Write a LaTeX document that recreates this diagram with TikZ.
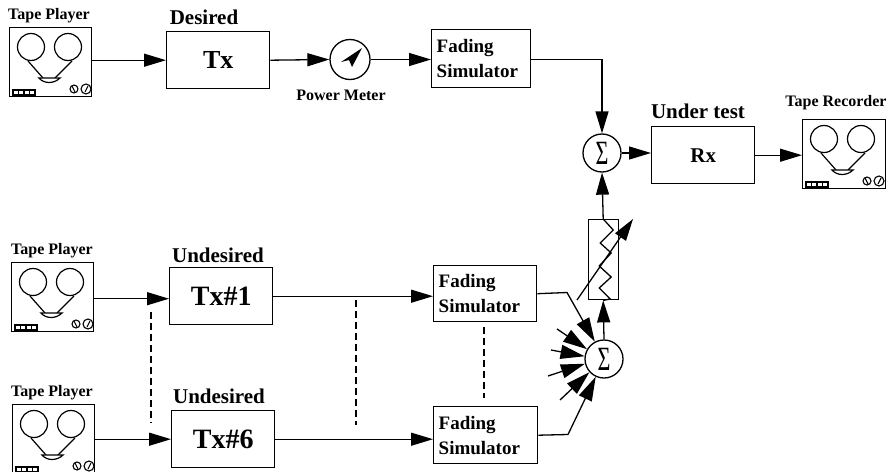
\documentclass[tikz,border=0pt]{standalone}
\usepackage{fontspec}
\setmainfont{Liberation Serif}
\usetikzlibrary{arrows.meta,calc}
\tikzset{
  ln/.style={line width=1.3pt,black},
  arr/.style={ln,-{Triangle[length=22pt,width=13pt]}},
  stub/.style={ln,-{Triangle[length=24pt,width=14pt]}},
  dsh/.style={line width=1.1pt,dash pattern=on 7pt off 4pt},
  block/.style={draw,line width=1.4pt,rectangle,inner sep=0pt,anchor=north west},
  txbox/.style={block,minimum width=103pt,minimum height=57pt,font=\bfseries\fontsize{26}{28}\selectfont},
  fade/.style={block,align=left,inner xsep=5pt,font=\bfseries\fontsize{19}{25}\selectfont},
  tapebox/.style={block,minimum width=82pt,minimum height=69pt},
  lab/.style={font=\bfseries\fontsize{16}{18}\selectfont,inner sep=0pt},
  biglab/.style={font=\bfseries\fontsize{21}{23}\selectfont,inner sep=0pt},
  sumc/.style={draw,circle,line width=1.3pt,minimum size=38pt,inner sep=0pt,font=\fontsize{34}{34}\selectfont},
  pics/reels/.style={code={
    \draw[line width=1.2pt] (22,20) circle (13.5) (59,20) circle (13.5);
    \draw[line width=1.2pt] (19,34) -- (34,51) (63,34) -- (46,51);
    \draw[line width=1.2pt,fill=white] (30,51) .. controls (35,57) and (45,57) .. (51,51) -- cycle;
    \draw[line width=1.1pt] (4,63) rectangle (26,68) (9.5,63) -- (9.5,68) (15,63) -- (15,68) (20.5,63) -- (20.5,68);
    \draw[line width=1.1pt] (65,62) circle (4) (77,62) circle (5);
    \draw[line width=1.1pt] (63,59) -- (66,65) (79,59) -- (76,65);
  }}
}
\begin{document}
\begin{tikzpicture}[x=1pt,y=-1pt]
\useasboundingbox (0,0) rectangle (890,471);
\clip (0,0) rectangle (890,471);
% top row
\node[tapebox] (tp1) at (9,27) {};
\pic at (tp1.north west) {reels};
\node[lab] (tp1l) at (49,16) {Tape Player};
\node[txbox] (tx) at (166,31) {\raisebox{-3pt}{Tx}\hspace{6pt}};
\node[biglab] (des) at (204,17) {Desired};
\node[draw,circle,line width=1.3pt,minimum size=40pt,inner sep=0pt] (pm) at (350,59.5) {};
\node[lab] (pml) at (341,95) {Power Meter};
\node[fade,minimum height=58pt,text width=89pt] (f1) at (431,29) {Fading\\Simulator};
\node[sumc] (s1) at (602,153) {\scalebox{0.65}[1]{Σ}};
\node[txbox] (rx) at (651,126) {\fontsize{21}{23}\selectfont Rx\hspace{6pt}};
\node[biglab] (ut) at (698,111) {Under test};
\node[tapebox,minimum width=83pt] (tr) at (802,119) {};
\pic at (tr.north west) {reels};
\node[lab] (trl) at (836,103) {Tape Recorder};
% meter needle
\fill (362,48) -- (341,62) -- (349,60) -- (352,67) -- cycle;
% middle row
\node[tapebox] (tp2) at (11,262) {};
\pic at (tp2.north west) {reels};
\node[lab] (tp2l) at (52,251) {Tape Player};
\node[txbox,font=\bfseries\fontsize{28}{30}\selectfont] (tx1) at (169,267) {Tx\#1};
\node[biglab] (und1) at (218,255) {Undesired};
\node[fade,minimum height=56pt,text width=93pt] (f2) at (433,265) {Fading\\Simulator};
% bottom row
\node[tapebox] (tp3) at (12,404) {};
\pic at (tp3.north west) {reels};
\node[lab] (tp3l) at (52,393) {Tape Player};
\node[txbox,font=\bfseries\fontsize{28}{30}\selectfont] (tx6) at (171,410) {Tx\#6};
\node[biglab] (und6) at (219,396) {Undesired};
\node[fade,minimum height=57pt,text width=94pt] (f3) at (433,406) {Fading\\Simulator};
\node[sumc] (s2) at (604,359) {\scalebox{0.65}[1]{Σ}};
% attenuator
\node[block,minimum width=30pt,minimum height=80pt] (att) at (587.5,219) {};
\draw[ln] (att.north) -- ++(10,11) -- ++(-13,13) -- ++(11,10) -- ++(-12,13) -- ++(12,11) -- ++(-12,11) -- ++(11,11) -- (att.south);
\coordinate (attA) at (577,300);
\coordinate (attB) at (633,219);
\draw[arr] (attA) -- (attB);
% connectors
\draw[arr] (tp1.east |- tx.west) -- (tx.west);
\draw[arr] (tx.east) -- (pm.west);
\draw[arr] (pm.east) -- (f1.west |- pm.east);
\draw[arr] (f1.east |- pm.east) -| (s1.north);
\draw[arr] (s1.east) -- (rx.west |- s1.east);
\draw[arr] (rx.east) -- (tr.west |- rx.east);
\draw[arr] (att.north) -- (s1.south);
\draw[arr] (s2.north) -- (att.south);
\draw[arr] ([yshift=-1.5pt]tp2.east) -- ([yshift=-1.5pt]tp2.east -| tx1.west);
\draw[arr] (tx1.east) -- (tx1.east -| f2.west);
\draw[arr] (tp3.east) -- (tp3.east -| tx6.west);
\draw[arr] (tx6.east) -- (tx6.east -| f3.west);
\coordinate (k1) at (567,292.5);
\coordinate (k2) at (568,434.5);
\draw[stub] (f2.east) -- (k1) -- (s2.118);
\draw[stub] (f3.east) -- (k2) -- (s2.245);
% stubs
\coordinate (a1) at (557,329);
\coordinate (a2) at (551,350);
\coordinate (a3) at (548,376);
\coordinate (a4) at (560,400);
\draw[stub] (a1) -- (s2.150);
\draw[stub] (a2) -- (s2.172);
\draw[stub] (a3) -- (s2.194);
\draw[stub] (a4) -- (s2.222);
% dashed
\coordinate (d1a) at (151,312); \coordinate (d1b) at (151,423);
\coordinate (d2a) at (356,300); \coordinate (d2b) at (356,425);
\coordinate (d3a) at (484,327); \coordinate (d3b) at (484,398);
\draw[dsh] (d1a) -- (d1b);
\draw[dsh] (d2a) -- (d2b);
\draw[dsh] (d3a) -- (d3b);
\end{tikzpicture}
\end{document}
